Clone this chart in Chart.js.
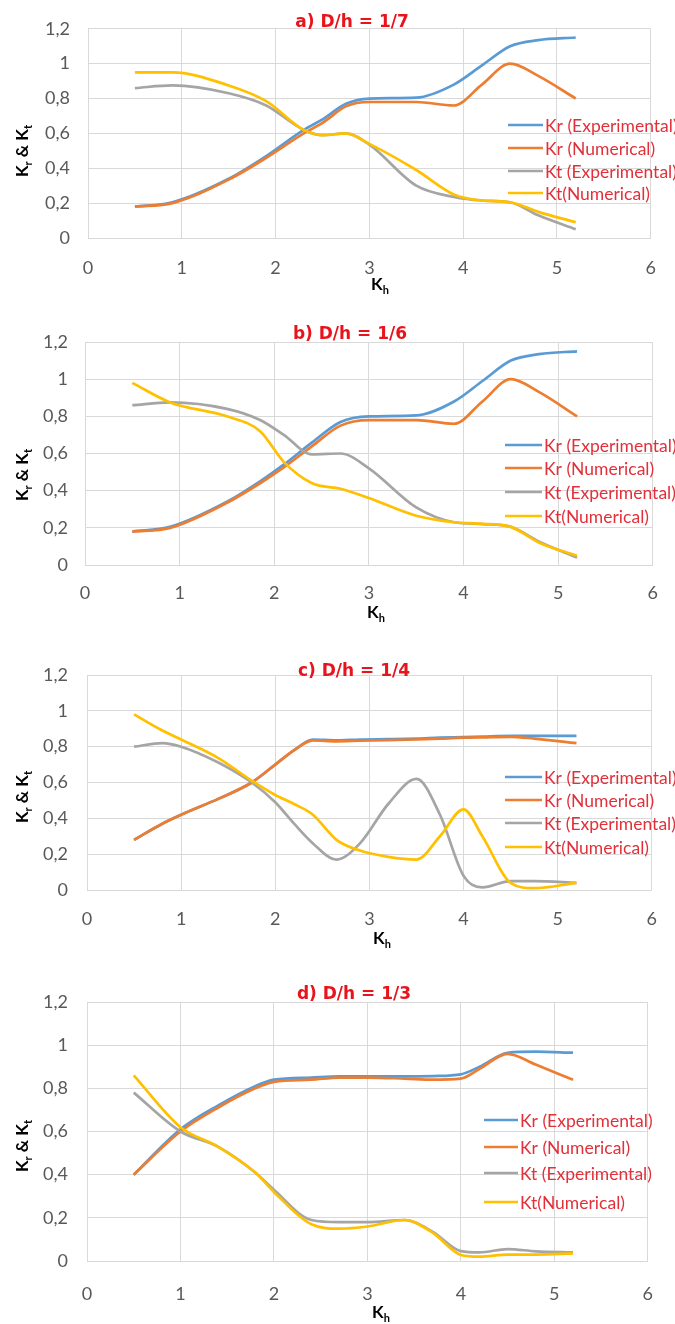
<!DOCTYPE html>
<html>
<head>
<meta charset="utf-8">
<script src="https://cdn.jsdelivr.net/npm/chart.js@4.4.1/dist/chart.umd.min.js"></script>
<style>
  html, body { margin: 0; padding: 0; background: #fff; }
  body { width: 675px; height: 1324px; position: relative; overflow: hidden; }
  canvas { position: absolute; left: 0; }
</style>
</head>
<body>
<canvas id="chartA" width="675" height="300" style="top:0px"></canvas>
<canvas id="chartB" width="675" height="330" style="top:300px"></canvas>
<canvas id="chartC" width="675" height="330" style="top:630px"></canvas>
<canvas id="chartD" width="675" height="364" style="top:960px"></canvas>
<script>
// data (Kh on x, Kr / Kt on y)
const seriesNames = ['Kr (Experimental)', 'Kr (Numerical)', 'Kt (Experimental)', 'Kt(Numerical)'];
const seriesColors = ['#5b9bd5', '#ed7d31', '#a5a5a5', '#ffc000'];
const panelTitles = ['a) D/h = 1/7', 'b) D/h = 1/6', 'c) D/h = 1/4', 'd) D/h = 1/3'];
const yTickLabels = ['0', '0,2', '0,4', '0,6', '0,8', '1', '1,2'];
const xTickLabels = ['0', '1', '2', '3', '4', '5', '6'];

// a) D/h = 1/7
const khA     = [0.5, 0.9, 1.5, 1.9, 2.3, 2.5, 2.75, 3.0, 3.5, 3.9, 4.2, 4.5, 4.8, 5.2];
const krExpA  = [0.18, 0.205, 0.34, 0.47, 0.62, 0.68, 0.77, 0.80, 0.805, 0.88, 0.99, 1.10, 1.135, 1.15];
const krNumA  = [0.18, 0.20, 0.335, 0.46, 0.60, 0.66, 0.755, 0.78, 0.78, 0.76, 0.88, 1.0, 0.93, 0.80];
const ktExpA  = [0.86, 0.875, 0.83, 0.76, 0.62, 0.59, 0.60, 0.535, 0.30, 0.235, 0.215, 0.205, 0.13, 0.05];
const ktNumA  = [0.95, 0.95, 0.875, 0.785, 0.62, 0.59, 0.60, 0.54, 0.39, 0.25, 0.215, 0.205, 0.15, 0.09];

// b) D/h = 1/6
const khB     = [0.5, 0.9, 1.5, 1.85, 2.1, 2.4, 2.7, 3.0, 3.5, 3.9, 4.2, 4.5, 4.8, 5.2];
const krExpB  = [0.18, 0.205, 0.34, 0.45, 0.54, 0.66, 0.77, 0.80, 0.805, 0.88, 0.99, 1.10, 1.135, 1.15];
const krNumB  = [0.18, 0.20, 0.335, 0.44, 0.525, 0.64, 0.75, 0.78, 0.78, 0.76, 0.88, 1.0, 0.93, 0.80];
const ktExpB  = [0.86, 0.875, 0.84, 0.78, 0.70, 0.595, 0.60, 0.52, 0.31, 0.23, 0.22, 0.205, 0.125, 0.04];
const ktNumB  = [0.98, 0.875, 0.80, 0.72, 0.555, 0.44, 0.41, 0.36, 0.265, 0.23, 0.222, 0.205, 0.12, 0.05];

// c) D/h = 1/4
const khC     = [0.5, 0.8, 1.0, 1.4, 1.75, 2.0, 2.2, 2.4, 2.65, 2.9, 3.2, 3.5, 3.75, 4.0, 4.2, 4.5, 4.75, 5.2];
const krExpC  = [0.28, 0.37, 0.42, 0.51, 0.60, 0.70, 0.78, 0.84, 0.835, 0.84, 0.842, 0.845, 0.85, 0.853, 0.856, 0.86, 0.86, 0.86];
const krNumC  = [0.28, 0.37, 0.42, 0.51, 0.60, 0.70, 0.78, 0.835, 0.83, 0.833, 0.836, 0.84, 0.845, 0.85, 0.852, 0.855, 0.845, 0.82];
const ktExpC  = [0.80, 0.82, 0.80, 0.71, 0.60, 0.49, 0.37, 0.26, 0.17, 0.26, 0.48, 0.62, 0.42, 0.08, 0.015, 0.05, 0.05, 0.04];
const ktNumC  = [0.98, 0.89, 0.84, 0.735, 0.61, 0.53, 0.48, 0.42, 0.28, 0.22, 0.185, 0.17, 0.30, 0.45, 0.30, 0.04, 0.01, 0.04];

// d) D/h = 1/3
const khD     = [0.5, 1.0, 1.4, 1.8, 2.0, 2.4, 2.7, 3.0, 3.4, 3.7, 4.0, 4.2, 4.5, 4.8, 5.2];
const krExpD  = [0.40, 0.61, 0.72, 0.81, 0.84, 0.85, 0.855, 0.855, 0.855, 0.857, 0.865, 0.90, 0.965, 0.97, 0.965];
const krNumD  = [0.40, 0.60, 0.71, 0.80, 0.83, 0.84, 0.85, 0.85, 0.845, 0.84, 0.845, 0.89, 0.96, 0.91, 0.84];
const ktExpD  = [0.78, 0.60, 0.53, 0.41, 0.33, 0.19, 0.18, 0.18, 0.19, 0.135, 0.046, 0.04, 0.055, 0.045, 0.04];
const ktNumD  = [0.86, 0.62, 0.53, 0.41, 0.32, 0.17, 0.15, 0.16, 0.19, 0.13, 0.028, 0.02, 0.03, 0.03, 0.035];

const FONT = 'Lato, "Open Sans", sans-serif';

function points(xs, ys) {
  return xs.map((x, i) => ({ x: x, y: ys[i] }));
}

// text with subscripts, parts = [[text, isSub], ...], centred on (cx, cy)
function drawSubText(ctx, parts, cx, cy, rotate) {
  ctx.save();
  ctx.translate(cx, cy);
  if (rotate) ctx.rotate(-Math.PI / 2);
  const big = 'bold 17px ' + FONT;
  const small = 'bold 11px ' + FONT;
  let total = 0;
  parts.forEach(p => { ctx.font = p[1] ? small : big; total += ctx.measureText(p[0]).width; });
  let x = -total / 2;
  ctx.fillStyle = '#000';
  ctx.textBaseline = 'middle';
  ctx.textAlign = 'left';
  parts.forEach(p => {
    ctx.font = p[1] ? small : big;
    ctx.fillText(p[0], x, p[1] ? 5 : 0);
    x += ctx.measureText(p[0]).width;
  });
  ctx.restore();
}

// title, axis titles and legend drawn on top of the chart
const decorPlugin = {
  id: 'decor',
  afterDraw(chart, args, o) {
    const ctx = chart.ctx;
    ctx.save();
    // panel title
    ctx.font = 'bold 17px "DejaVu Sans", sans-serif';
    ctx.fillStyle = '#e8141c';
    ctx.textAlign = 'center';
    ctx.textBaseline = 'middle';
    ctx.fillText(o.title, o.titleX, o.titleY);

    drawSubText(ctx, [['K', false], ['r', true], [' & K', false], ['t', true]], o.yTitleX, o.yTitleY, true);
    drawSubText(ctx, [['K', false], ['h', true]], o.xTitleX, o.xTitleY, false);

    // legend
    ctx.font = '17.5px ' + FONT;
    ctx.textAlign = 'left';
    ctx.textBaseline = 'middle';
    o.rows.forEach((ry, i) => {
      ctx.strokeStyle = seriesColors[i];
      ctx.lineWidth = 2.5;
      ctx.beginPath();
      ctx.moveTo(o.lineX0, ry);
      ctx.lineTo(o.lineX1, ry);
      ctx.stroke();
      ctx.fillStyle = '#e2303a';
      ctx.fillText(seriesNames[i], o.lineX1 + 2, ry + 1);
    });
    ctx.restore();
  }
};

function makeChart(id, xs, series, lay) {
  const datasets = series.map((ys, i) => ({
    label: seriesNames[i],
    data: points(xs, ys),
    borderColor: seriesColors[i],
    backgroundColor: seriesColors[i],
    borderWidth: 2.7,
    pointRadius: 0,
    showLine: true,
    fill: false,
    cubicInterpolationMode: 'monotone',
    order: 4 - i
  }));

  new Chart(document.getElementById(id), {
    type: 'scatter',
    data: { datasets: datasets },
    plugins: [decorPlugin],
    options: {
      responsive: false,
      devicePixelRatio: 1,
      animation: false,
      layout: { padding: { left: lay.left - 60, right: 675 - lay.right, top: lay.top, bottom: lay.h - lay.bottom - 50 } },
      plugins: {
        legend: { display: false },
        tooltip: { enabled: false },
        decor: lay.decor
      },
      scales: {
        x: {
          type: 'linear', min: 0, max: 6,
          afterFit: s => { s.height = 50; },
          grid: { color: '#d9d9d9', lineWidth: 1, drawTicks: false },
          border: { color: '#d9d9d9' },
          ticks: {
            stepSize: 1, padding: lay.xPad, color: '#595959',
            font: { family: FONT, size: 18 },
            callback: v => xTickLabels[Math.round(v)]
          }
        },
        y: {
          min: 0, max: 1.2,
          afterFit: s => { s.width = 60; },
          grid: { color: '#d9d9d9', lineWidth: 1, drawTicks: false },
          border: { color: '#d9d9d9' },
          ticks: {
            stepSize: 0.2, padding: lay.yPad, color: '#595959',
            font: { family: FONT, size: 18 },
            callback: v => yTickLabels[Math.round(v / 0.2)]
          }
        }
      }
    }
  });
}

makeChart('chartA', khA, [krExpA, krNumA, ktExpA, ktNumA], {
  left: 88, right: 657, top: 25, bottom: 238, h: 300, xPad: 19, yPad: 18,
  decor: { title: panelTitles[0], titleX: 352, titleY: 23, yTitleX: 23, yTitleY: 151, xTitleX: 380, xTitleY: 285,
           lineX0: 508, lineX1: 543, rows: [125, 148, 171, 193] }
});
makeChart('chartB', khB, [krExpB, krNumB, ktExpB, ktNumB], {
  left: 85, right: 653, top: 42, bottom: 265, h: 330, xPad: 17, yPad: 17,
  decor: { title: panelTitles[1], titleX: 350, titleY: 35, yTitleX: 23, yTitleY: 175, xTitleX: 376, xTitleY: 313,
           lineX0: 505, lineX1: 542, rows: [145, 168, 192, 216] }
});
makeChart('chartC', khC, [krExpC, krNumC, ktExpC, ktNumC], {
  left: 87, right: 662, top: 45, bottom: 260, h: 330, xPad: 18, yPad: 19,
  decor: { title: panelTitles[2], titleX: 354, titleY: 42, yTitleX: 23, yTitleY: 167, xTitleX: 382, xTitleY: 309,
           lineX0: 505, lineX1: 542, rows: [147, 170, 193, 217] }
});
makeChart('chartD', khD, [krExpD, krNumD, ktExpD, ktNumD], {
  left: 87, right: 661, top: 42, bottom: 301, h: 364, xPad: 22, yPad: 19,
  decor: { title: panelTitles[3], titleX: 354, titleY: 35, yTitleX: 23, yTitleY: 186, xTitleX: 381, xTitleY: 353,
           lineX0: 484, lineX1: 518, rows: [160, 187, 213, 242] }
});
</script>
</body>
</html>
